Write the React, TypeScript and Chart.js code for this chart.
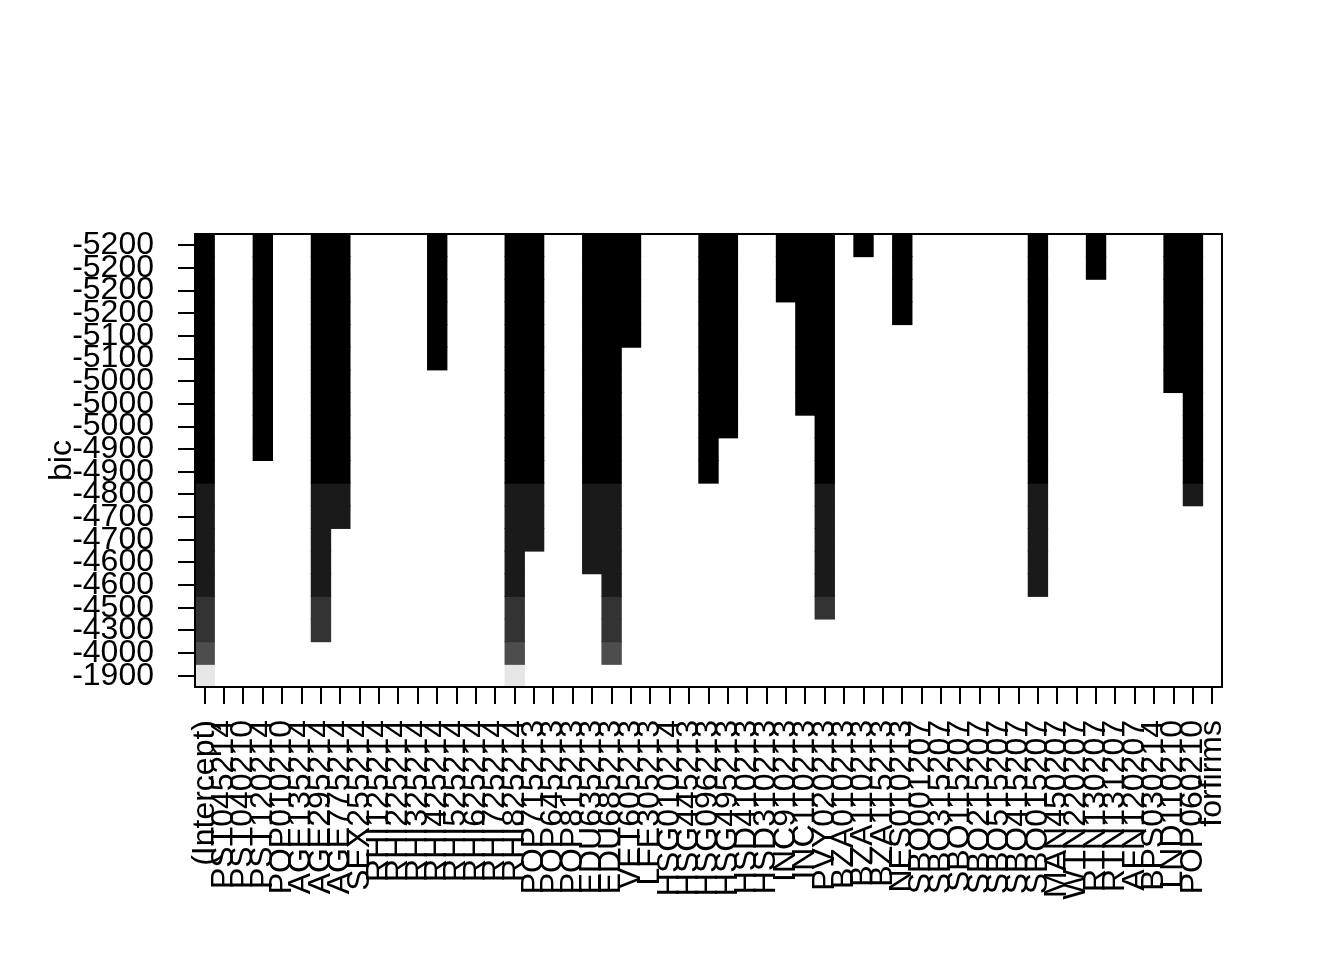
import React, { useEffect, useRef } from "react";
import { Chart, registerables } from "chart.js";

Chart.register(...registerables);

// Column labels (variables of the regsubsets fit)
const variables = [
  "(Intercept)", "PST045214", "PST040210", "PST120214", "POP010210",
  "AGE135214", "AGE295214", "AGE775214", "SEX255214", "RHI125214",
  "RHI225214", "RHI325214", "RHI425214", "RHI525214", "RHI625214",
  "RHI725214", "RHI825214", "POP715213", "POP645213", "POP815213",
  "EDU635213", "EDU685213", "VET605213", "LFE305213", "HSG010214",
  "HSG445213", "HSG096213", "HSG495213", "HSD410213", "HSD310213",
  "INC910213", "INC110213", "PVY020213", "BZA010213", "BZA110213",
  "BZA115213", "NES010213", "SBO001207", "SBO315207", "SBO115207",
  "SBO215207", "SBO515207", "SBO415207", "SBO015207", "MAN450207",
  "WTN220207", "RTN130207", "RTN131207", "AFN120207", "BPS030214",
  "LND110210", "POP060210", "forfirms",
];

// Variable added at model size 1, 2, ..., 20 (nested best subsets)
const entryOrder = [
  "RHI825214", "EDU685213", "AGE295214", "PVY020213", "SBO015207",
  "EDU635213", "POP715213", "AGE775214", "POP060210", "HSG096213",
  "PST120214", "HSG495213", "INC110213", "LND110210", "RHI425214",
  "VET605213", "NES010213", "INC910213", "RTN130207", "BZA110213",
];

// BIC of each displayed row, top (best) to bottom (estimated)
const bicValues = [
  -5235, -5230, -5224, -5216, -5140, -5105, -5040, -5010, -4975, -4920,
  -4905, -4790, -4720, -4680, -4630, -4590, -4500, -4280, -4010, -1900,
];

// Y tick labels, top to bottom
const bicLabels = [
  "-5200", "-5200", "-5200", "-5200", "-5100", "-5100", "-5000", "-5000",
  "-5000", "-4900", "-4900", "-4800", "-4700", "-4700", "-4600", "-4600",
  "-4500", "-4300", "-4000", "-1900",
];

// leaps default palette: gray(seq(0, 0.9, length = 10))
const grayLevels = [0, 0.1, 0.2, 0.3, 0.4, 0.5, 0.6, 0.7, 0.8, 0.9];

const FONT = "'Liberation Sans', Arial, Helvetica, sans-serif";

function grayHex(g: number) {
  const v = Math.round(g * 255).toString(16).padStart(2, "0");
  return "#" + v + v + v;
}

function rowColor(v: number) {
  const lo = Math.min(...bicValues);
  const hi = Math.max(...bicValues);
  let idx = Math.floor(((v - lo) / (hi - lo)) * grayLevels.length);
  if (idx >= grayLevels.length) idx = grayLevels.length - 1;
  return grayHex(grayLevels[idx]);
}

const boxPlugin = {
  id: "boxPlugin",
  afterDatasetsDraw(chart: any) {
    const { ctx, chartArea } = chart;
    ctx.save();
    ctx.strokeStyle = "#000";
    ctx.lineWidth = 2;
    ctx.strokeRect(
      chartArea.left,
      chartArea.top,
      chartArea.right - chartArea.left,
      chartArea.bottom - chartArea.top
    );
    ctx.restore();
  },
};

export default function App() {
  const ref = useRef<HTMLCanvasElement | null>(null);

  useEffect(() => {
    if (!ref.current) return;
    const nRows = bicValues.length;
    const datasets = bicValues.map((bic, r) => {
      const size = nRows - r;
      const included = new Set(["(Intercept)", ...entryOrder.slice(0, size)]);
      return {
        label: bicLabels[r],
        data: variables.map((v) => (included.has(v) ? [r, r + 1] : null)),
        backgroundColor: rowColor(bic),
        borderWidth: 0,
        borderSkipped: false,
        inflateAmount: 0.5,
        grouped: false,
        barPercentage: 1,
        categoryPercentage: 1,
      };
    });

    const chart = new Chart(ref.current, {
      type: "bar",
      data: { labels: variables, datasets: datasets as any },
      options: {
        animation: false,
        responsive: false,
        devicePixelRatio: 1,
        layout: { padding: { top: 234, right: 122, bottom: 0, left: 0 } },
        plugins: {
          legend: { display: false },
          tooltip: { enabled: false },
        },
        scales: {
          x: {
            type: "category",
            grid: {
              offset: false,
              drawOnChartArea: false,
              drawTicks: true,
              tickLength: 17,
              color: "#000",
              lineWidth: 2,
            },
            border: { display: false },
            ticks: {
              autoSkip: false,
              minRotation: 90,
              maxRotation: 90,
              padding: 16,
              color: "#000",
              font: { family: FONT, size: 32 },
            },
            afterFit: (scale: any) => {
              scale.height = 273;
            },
          },
          y: {
            type: "linear",
            min: 0,
            max: nRows,
            reverse: true,
            grid: {
              drawOnChartArea: false,
              drawTicks: true,
              tickLength: 17,
              color: "#000",
              lineWidth: 2,
            },
            border: { display: false },
            afterBuildTicks: (scale: any) => {
              scale.ticks = bicLabels.map((_, i) => ({ value: i + 0.5 }));
            },
            ticks: {
              autoSkip: false,
              padding: 24,
              color: "#000",
              font: { family: FONT, size: 32 },
              callback: (_v: any, i: number) => bicLabels[i],
            },
            title: {
              display: true,
              text: "bic",
              color: "#000",
              font: { family: FONT, size: 32 },
              padding: { top: 43, bottom: 0 },
            },
            afterFit: (scale: any) => {
              scale.width = 195;
            },
          },
        },
      },
      plugins: [boxPlugin],
    });
    return () => chart.destroy();
  }, []);

  return (
    <div style={{ position: "fixed", left: 0, top: 0, width: 1344, height: 960, background: "#fff" }}>
      <canvas ref={ref} width={1344} height={960} style={{ display: "block" }} />
    </div>
  );
}
